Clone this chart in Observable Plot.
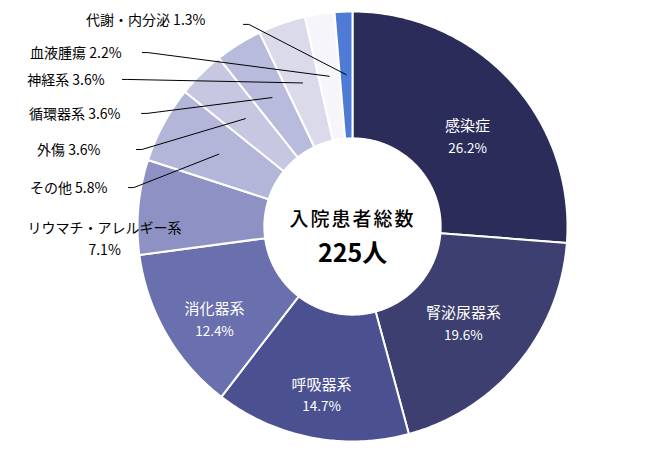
<!DOCTYPE html>
<html><head><meta charset="utf-8">
<script src="https://cdn.jsdelivr.net/npm/d3@7"></script>
<script src="https://cdn.jsdelivr.net/npm/@observablehq/plot@0.6"></script>
<style>
body{margin:0;background:#fff}
.center-title text{letter-spacing:2px}
</style>
</head><body><div id="chart"></div>
<script>
// ---- data ----
const categories = ["感染症","腎泌尿器系","呼吸器系","消化器系","リウマチ・アレルギー系","その他","外傷","循環器系","神経系","血液腫瘍","代謝・内分泌"];
const counts = [59,44,33,28,16,13,8,8,8,5,3];
const centerTitle = "入院患者総数";
const unit = "人";

// ---- styles ----
const colors = ["#2c2c5a","#3c3f6f","#4b5190","#6a70ae","#8e91c3","#b4b6d9","#c6c7e1","#b9bbdc","#dadaea","#f6f6fa","#4e7bd6"];

// ---- label layout (in donut radius units) ----
const insideLayout = [
  {name:"感染症", tx:0.535, ty:0.414},
  {name:"腎泌尿器系", tx:0.516, ty:-0.456},
  {name:"呼吸器系", tx:-0.144, ty:-0.788},
  {name:"消化器系", tx:-0.642, ty:-0.437}
];
const outsideLayout = [
  {name:"代謝・内分泌", tx:-0.684, ty:0.958, lx:-0.507, ly:0.940},
  {name:"血液腫瘍", tx:-1.074, ty:0.805, lx:-0.977, ly:0.809},
  {name:"神経系", tx:-1.153, ty:0.679, lx:-1.070, ly:0.684},
  {name:"循環器系", tx:-1.079, ty:0.521, lx:-0.981, ly:0.526},
  {name:"外傷", tx:-1.172, ty:0.353, lx:-1.005, ly:0.358},
  {name:"その他", tx:-1.140, ty:0.177, lx:-1.042, ly:0.181},
  {name:"リウマチ・アレルギー系", tx:-1.153, ty:-0.05, lx:null, ly:null}
];

const innerR = 0.41, outerR = 1, leaderR = 0.707;
const total = d3.sum(counts);
const arcs = d3.pie().sort(null).value(d => d)(counts);
const slices = categories.map((name, i) => ({
  name, value: counts[i],
  pct: (counts[i] / total * 100).toFixed(1) + "%",
  a0: arcs[i].startAngle, a1: arcs[i].endAngle,
  mid: (arcs[i].startAngle + arcs[i].endAngle) / 2
}));
const byName = new Map(slices.map(s => [s.name, s]));

const ringPts = slices.flatMap(s => {
  const n = Math.max(4, Math.ceil((s.a1 - s.a0) / 0.01));
  const angs = d3.range(n + 1).map(k => s.a0 + (s.a1 - s.a0) * k / n);
  const outer = angs.map(a => ({name: s.name, x: outerR * Math.sin(a), y: outerR * Math.cos(a)}));
  const inner = angs.slice().reverse().map(a => ({name: s.name, x: innerR * Math.sin(a), y: innerR * Math.cos(a)}));
  return [...outer, ...inner];
});

const insideData = insideLayout.map(l => ({...l, ...byName.get(l.name)}));
const outsideData = outsideLayout.map(l => ({...l, ...byName.get(l.name)}));
const leaderPts = outsideData.filter(d => d.lx !== null).flatMap(d => [
  {name: d.name, x: d.lx, y: d.ly},
  {name: d.name, x: d.lx + 0.025, y: d.ly},
  {name: d.name, x: leaderR * Math.sin(d.mid), y: leaderR * Math.cos(d.mid)}
]);

const chart = Plot.plot({
  width: 668, height: 454,
  marginLeft: 137, marginRight: 101, marginTop: 11, marginBottom: 13,
  x: {domain: [-1, 1], axis: null},
  y: {domain: [-1, 1], axis: null},
  color: {domain: categories, range: colors},
  style: {fontFamily: '"Noto Sans CJK JP", "Noto Sans", sans-serif', background: "#fff", overflow: "visible"},
  marks: [
    Plot.line(ringPts, {x: "x", y: "y", z: "name", fill: "name", stroke: "#fff", strokeWidth: 2, curve: "linear-closed"}),
    Plot.line(leaderPts, {x: "x", y: "y", z: "name", stroke: "#000", strokeWidth: 1}),
    Plot.text(insideData, {x: "tx", y: "ty", text: "name", fill: "#fff", fontSize: 15, dy: -11}),
    Plot.text(insideData, {x: "tx", y: "ty", text: "pct", fill: "#fff", fontSize: 13.5, dy: 11}),
    Plot.text(outsideData.filter(d => d.lx !== null), {x: "tx", y: "ty", text: d => d.name + " " + d.pct, textAnchor: "end", fontSize: 14, fill: "#000"}),
    Plot.text(outsideData.filter(d => d.lx === null), {x: "tx", y: "ty", text: d => d.name + "\n" + d.pct, textAnchor: "middle", lineHeight: 1.55, fontSize: 14, fill: "#000"}),
    Plot.text([centerTitle], {frameAnchor: "middle", text: d => d, dy: -7, fontSize: 19, fontWeight: 500, fill: "#000", className: "center-title"}),
    Plot.text([total + unit], {frameAnchor: "middle", text: d => d, dy: 27, fontSize: 25, fontWeight: "bold", fill: "#000"})
  ]
});
document.getElementById("chart").append(chart);
</script>
</body></html>
